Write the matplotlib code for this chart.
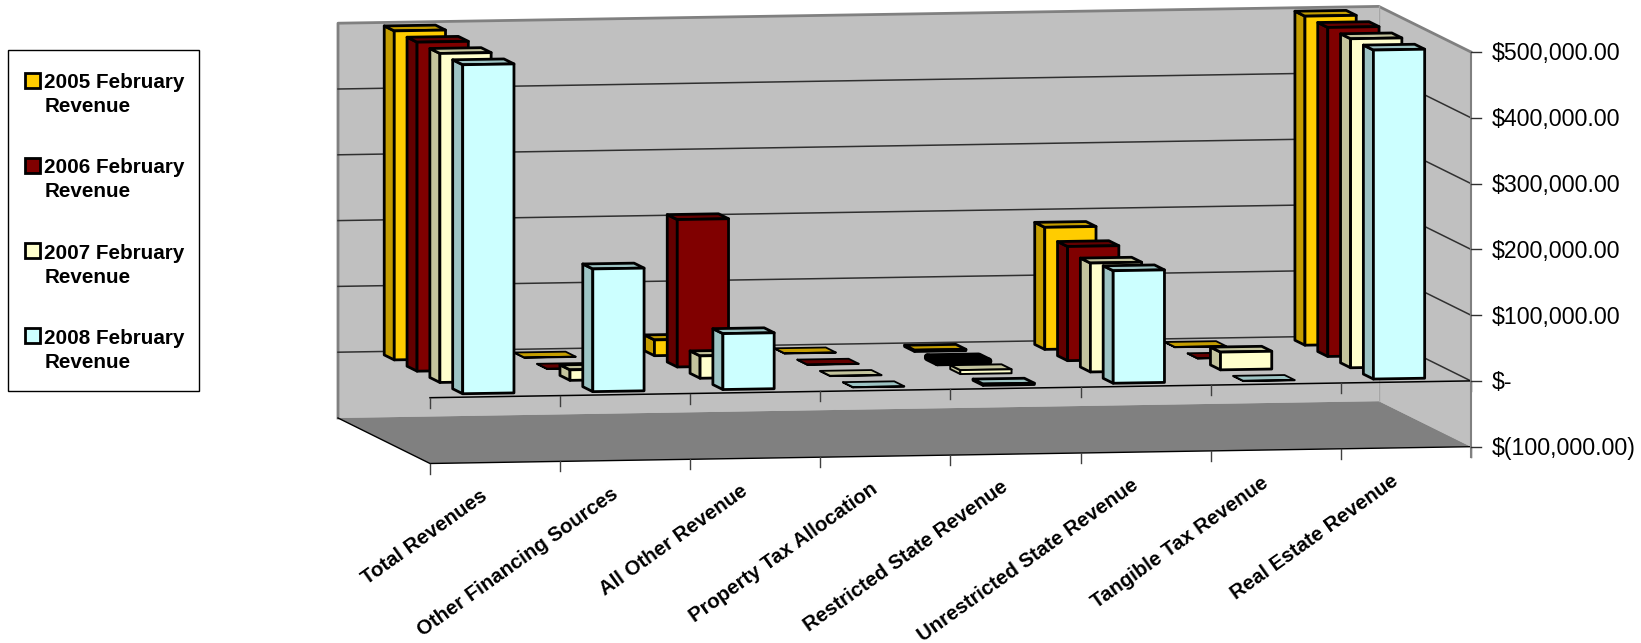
import matplotlib

matplotlib.use("Agg")

import matplotlib.pyplot as plt
from matplotlib.patches import Polygon, Rectangle

plt.rcParams["font.family"] = ["Liberation Sans", "DejaVu Sans"]

WIDTH = 1641
HEIGHT = 643

categories = [
    "Total Revenues",
    "Other Financing Sources",
    "All Other Revenue",
    "Property Tax Allocation",
    "Restricted State Revenue",
    "Unrestricted State Revenue",
    "Tangible Tax Revenue",
    "Real Estate Revenue",
]
series_names = [
    "2005 February\nRevenue",
    "2006 February\nRevenue",
    "2007 February\nRevenue",
    "2008 February\nRevenue",
]
revenue_2005 = [500000, 500, 24000, 500, 2000, 185500, 500, 500000]
revenue_2006 = [500000, 500, 224000, 500, 1500, 173500, 500, 500000]
revenue_2007 = [500000, 16000, 34000, 500, 6000, 165500, 27000, 500000]
revenue_2008 = [500000, 186500, 85000, 500, 2000, 171000, 500, 500000]
all_series = [revenue_2005, revenue_2006, revenue_2007, revenue_2008]

value_ticks = [-100000, 0, 100000, 200000, 300000, 400000, 500000]
value_labels = [
    "$(100,000.00)",
    "$-",
    "$100,000.00",
    "$200,000.00",
    "$300,000.00",
    "$400,000.00",
    "$500,000.00",
]

front_colors = ["#FFCC00", "#800000", "#FFFFCC", "#CCFFFF"]
side_colors = ["#C49D00", "#630000", "#C4C49D", "#9DC4C4"]
top_colors = ["#C49D00", "#630000", "#C4C49D", "#9DC4C4"]

# outline widths for the slabs in the Restricted State Revenue group
slab_widths = {(4, 1): 5.0, (4, 2): 1.4}


def project(cat, depth, value):
    # oblique projection: cat runs along the wall, depth 0 is back, 1 is front
    x = 338 + cat * 130.1 + depth * 92
    y = 418 - cat * 2.1 + depth * 45.5 - (value + 100000) * 65.8 / 100000
    return x, y


def draw_bar(ax, cat_index, series_index, value):
    left = cat_index + 0.303
    right = left + 0.394
    front = 0.927 - 0.248 * (3 - series_index)
    back = front - 0.109
    # nearly flat bars get a lighter outline so their top face stays visible
    width = 1.3 if value < 1000 else 2.0
    width = slab_widths.get((cat_index, series_index), width)
    edge = {"edgecolor": "black", "linewidth": width, "joinstyle": "round", "zorder": 3}
    faces = [
        (side_colors[series_index],
         [(left, back, 0), (left, front, 0), (left, front, value), (left, back, value)]),
        (top_colors[series_index],
         [(left, back, value), (right, back, value), (right, front, value), (left, front, value)]),
        (front_colors[series_index],
         [(left, front, 0), (right, front, 0), (right, front, value), (left, front, value)]),
    ]
    for color, corners in faces:
        ax.add_patch(Polygon([project(*c) for c in corners], closed=True, facecolor=color, **edge))


fig = plt.figure(figsize=(WIDTH / 100, HEIGHT / 100), dpi=100)
ax = fig.add_axes([0, 0, 1, 1])
ax.set_xlim(0, WIDTH)
ax.set_ylim(HEIGHT, 0)
ax.axis("off")

top = value_ticks[-1]
bottom = value_ticks[0]
n_cats = len(categories)

# walls and floor
back_wall = [project(0, 0, bottom), project(n_cats, 0, bottom), project(n_cats, 0, top), project(0, 0, top)]
side_wall = [project(n_cats, 0, bottom), project(n_cats, 1, bottom), project(n_cats, 1, top), project(n_cats, 0, top)]
floor = [project(0, 0, bottom), project(n_cats, 0, bottom), project(n_cats, 1, bottom), project(0, 1, bottom)]
ax.add_patch(Polygon(back_wall, closed=True, facecolor="#C0C0C0", edgecolor="none"))
ax.add_patch(Polygon(side_wall, closed=True, facecolor="#C0C0C0", edgecolor="none"))
ax.add_patch(Polygon(floor, closed=True, facecolor="#808080", edgecolor="none"))

# wall outlines
outline = [project(0, 0, bottom), project(0, 0, top), project(n_cats, 0, top), project(n_cats, 1, top)]
ax.plot(*zip(*outline), color="#808080", linewidth=2)
corner = [project(n_cats, 0, top), project(n_cats, 0, bottom)]
ax.plot(*zip(*corner), color="#A6A6A6", linewidth=1)
floor_edge = [project(0, 0, bottom), project(0, 1, bottom), project(n_cats, 1, bottom)]
ax.plot(*zip(*floor_edge), color="black", linewidth=1)

# gridlines along both walls
for tick in value_ticks[1:-1]:
    line = [project(0, 0, tick), project(n_cats, 0, tick), project(n_cats, 1, tick)]
    ax.plot(*zip(*line), color="#303030", linewidth=1.1)

# category axis at zero with ticks, and the same ticks under the floor
zero_axis = [project(0, 1, 0), project(n_cats, 1, 0)]
ax.plot(*zip(*zero_axis), color="black", linewidth=1.1)
for i in range(n_cats + 1):
    for level in (0, bottom):
        x, y = project(i, 1, level)
        ax.plot([x, x], [y, y + 10], color="#404040", linewidth=1)

# value axis
x0, y0 = project(n_cats, 1, top)
x1, y1 = project(n_cats, 1, bottom)
ax.plot([x0, x1], [y0, y1 + 10], color="#808080", linewidth=1.5)
for tick, label in zip(value_ticks, value_labels):
    x, y = project(n_cats, 1, tick)
    ax.plot([x, x + 10], [y, y], color="#303030", linewidth=1)
    ax.text(x + 20.5, y + 2, label, fontsize=16.7, ha="left", va="center", color="black")

# bars, rear series first
for series_index, values in enumerate(all_series):
    for cat_index, value in enumerate(values):
        draw_bar(ax, cat_index, series_index, value)

for i, label in enumerate(categories):
    x, y = project(i + 0.5, 1, bottom)
    ax.text(x - 15, y + 23.5, label, fontsize=14.7, fontweight="bold", rotation=35.5,
            rotation_mode="anchor", ha="right", va="top", color="black")

# legend
ax.add_patch(Rectangle((7.5, 49.5), 191, 341, facecolor="white", edgecolor="black", linewidth=1))
for i, name in enumerate(series_names):
    y = 80 + i * 85.3
    ax.add_patch(Rectangle((24.5, y - 7.5), 15, 15, facecolor=front_colors[i], edgecolor="black", linewidth=2))
    ax.text(44.5, y - 7, name, fontsize=14.9, fontweight="bold", ha="left", va="top",
            linespacing=1.33, color="black")

fig.savefig("out.png", dpi=100)
plt.close(fig)
